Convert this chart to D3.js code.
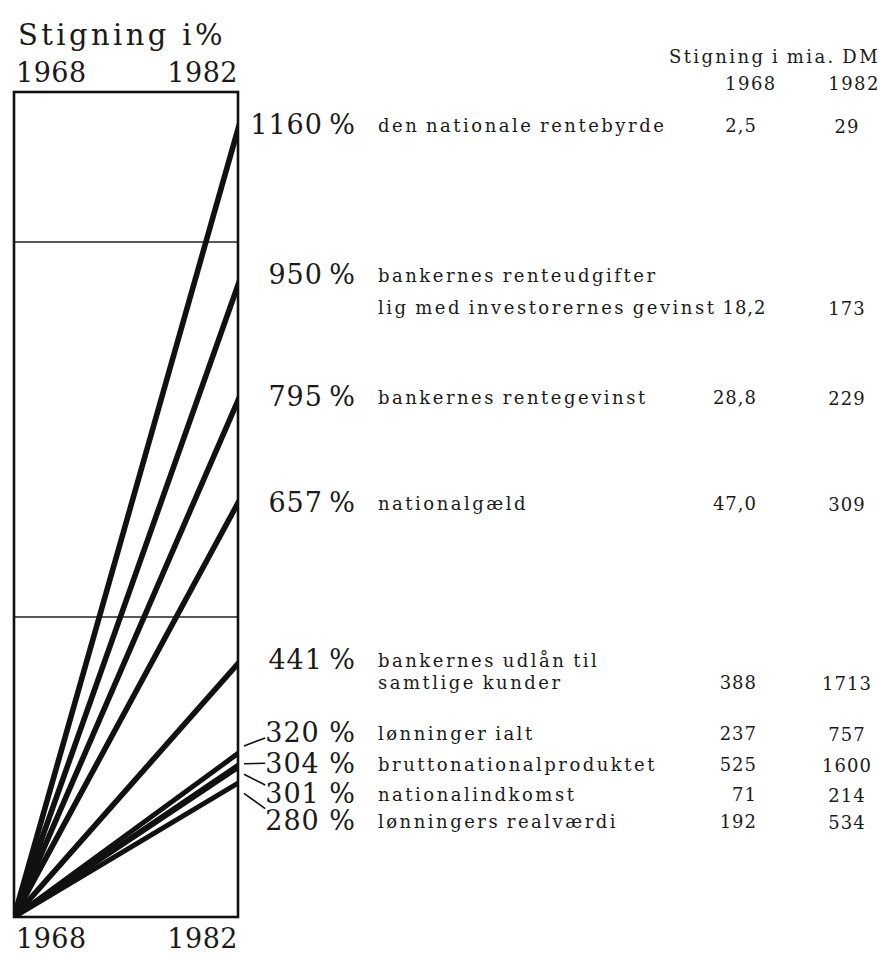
<!DOCTYPE html>
<html lang="da">
  <head>
    <meta charset="utf-8" />
    <title>Stigning i %</title>
    <script src="https://cdn.jsdelivr.net/npm/d3@7"></script>
    <style>
      body { margin: 0; background: #fff; }
      text { font-family: "DejaVu Serif", "Liberation Serif", serif; fill: #1a1a1a; }
    </style>
  </head>
  <body>
    <div id="root"></div>

    <script type="text/javascript">
      /************************************
       * data
       ************************************/
      const years = [1968, 1982];
      const pct = [1160, 950, 795, 657, 441, 320, 304, 301, 280];
      const labels = [
        ["den nationale rentebyrde"],
        ["bankernes renteudgifter", "lig med investorernes gevinst"],
        ["bankernes rentegevinst"],
        ["nationalgæld"],
        ["bankernes udlån til", "samtlige kunder"],
        ["lønninger ialt"],
        ["bruttonationalproduktet"],
        ["nationalindkomst"],
        ["lønningers realværdi"],
      ];
      const val1968 = ["2,5", "18,2", "28,8", "47,0", "388", "237", "525", "71", "192"];
      const val1982 = ["29", "173", "229", "309", "1713", "757", "1600", "214", "534"];
      const gridTicks = [500, 1000];

      /************************************
       * layout
       ************************************/
      const width = 882;
      const height = 955;
      // baseline of each label row (spread out where the lines bunch up)
      const rowBase = [134, 284, 406, 512, 669, 742, 773, 803, 830];
      const lineGap = [0, 32, 0, 0, 22, 0, 0, 0, 0];
      const pctRight = 356;
      const textX = 378;
      const col1Right = 757;
      const col2Mid = 847;

      const xScale = d3.scaleLinear().domain(years).range([14, 238]);
      const yScale = d3.scaleLinear().domain([100, 1200]).range([917, 92]);

      const svg = d3.select("#root").append("svg")
        .attr("width", width)
        .attr("height", height);

      // title
      svg.append("text")
        .attr("x", 18).attr("y", 45)
        .attr("font-size", 29)
        .attr("letter-spacing", 3.4)
        .text("Stigning i%");

      // year labels top and bottom
      [82, 948].forEach(function (yy) {
        svg.append("text")
          .attr("x", xScale(1968) + 2).attr("y", yy)
          .attr("font-size", 27).attr("letter-spacing", 0.5)
          .text(years[0]);
        svg.append("text")
          .attr("x", xScale(1982)).attr("y", yy)
          .attr("text-anchor", "end")
          .attr("font-size", 27).attr("letter-spacing", 0.5)
          .text(years[1]);
      });

      // grid lines
      svg.append("g")
        .selectAll("line")
        .data(gridTicks)
        .join("line")
        .attr("x1", xScale(1968)).attr("x2", xScale(1982))
        .attr("y1", (d) => yScale(d)).attr("y2", (d) => yScale(d))
        .attr("stroke", "#222")
        .attr("stroke-width", 1.3);

      // clip for the lines
      svg.append("clipPath").attr("id", "box")
        .append("rect")
        .attr("x", xScale(1968)).attr("y", yScale(1200))
        .attr("width", xScale(1982) - xScale(1968))
        .attr("height", yScale(100) - yScale(1200));

      // growth lines
      svg.append("g")
        .attr("clip-path", "url(#box)")
        .selectAll("line")
        .data(pct)
        .join("line")
        .attr("x1", xScale(1968)).attr("y1", yScale(100))
        .attr("x2", xScale(1982) + 2).attr("y2", (d) => yScale(d))
        .attr("stroke", "#111")
        .attr("stroke-width", (d) => (d < 400 ? 5 : 5.6));

      // frame
      svg.append("rect")
        .attr("x", xScale(1968)).attr("y", yScale(1200))
        .attr("width", xScale(1982) - xScale(1968))
        .attr("height", yScale(100) - yScale(1200))
        .attr("fill", "none")
        .attr("stroke", "#111")
        .attr("stroke-width", 2.6);

      // percentage labels
      const pctLabels = svg.append("g")
        .selectAll("text")
        .data(pct)
        .join("text")
        .attr("x", pctRight)
        .attr("y", (d, i) => rowBase[i])
        .attr("text-anchor", "end")
        .attr("font-size", 27)
        .attr("letter-spacing", 1)
        .text((d) => d + (d < 400 ? " %" : "\u2009%"));

      // leader lines for the bunched-up lower lines
      pct.forEach(function (d, i) {
        if (d > 400) return;
        const yEnd = yScale(d);
        const center = rowBase[i] - 10;
        const left = pctRight - pctLabels.nodes()[i].getComputedTextLength();
        svg.append("line")
          .attr("x1", xScale(1982) + 6)
          .attr("y1", yEnd + (center - yEnd) * 0.3)
          .attr("x2", left)
          .attr("y2", center + (yEnd - center) * 0.3)
          .attr("stroke", "#111")
          .attr("stroke-width", 1.6);
      });

      // right-hand table header
      svg.append("text")
        .attr("x", 880).attr("y", 63)
        .attr("text-anchor", "end")
        .attr("font-size", 18).attr("letter-spacing", 2.4)
        .attr("word-spacing", -1.5)
        .text("Stigning i mia. DM");
      svg.append("text")
        .attr("x", 725).attr("y", 90)
        .attr("font-size", 18).attr("letter-spacing", 1.5)
        .text(years[0]);
      svg.append("text")
        .attr("x", 880).attr("y", 90)
        .attr("text-anchor", "end")
        .attr("font-size", 18).attr("letter-spacing", 1.5)
        .text(years[1]);

      // descriptions and values
      labels.forEach(function (lines, i) {
        let yy = rowBase[i] - 2;
        let lastNode = null;
        lines.forEach(function (line, j) {
          if (j > 0) yy += lineGap[i];
          lastNode = svg.append("text")
            .attr("x", textX).attr("y", yy)
            .attr("font-size", 18)
            .attr("letter-spacing", 2.5)
            .attr("word-spacing", -1.5)
            .text(line)
            .node();
        });
        const textEnd = textX + lastNode.getComputedTextLength();
        const v1 = svg.append("text")
          .attr("y", yy)
          .attr("font-size", 18)
          .attr("letter-spacing", 1)
          .text(val1968[i]);
        const w1 = v1.node().getComputedTextLength();
        let x1 = col1Right - w1;
        if (x1 < textEnd + 6) x1 = textEnd + 6;
        v1.attr("x", x1);
        svg.append("text")
          .attr("x", col2Mid).attr("y", yy + 1)
          .attr("text-anchor", "middle")
          .attr("font-size", 18)
          .attr("letter-spacing", 1)
          .text(val1982[i]);
      });
    </script>
  </body>
</html>
